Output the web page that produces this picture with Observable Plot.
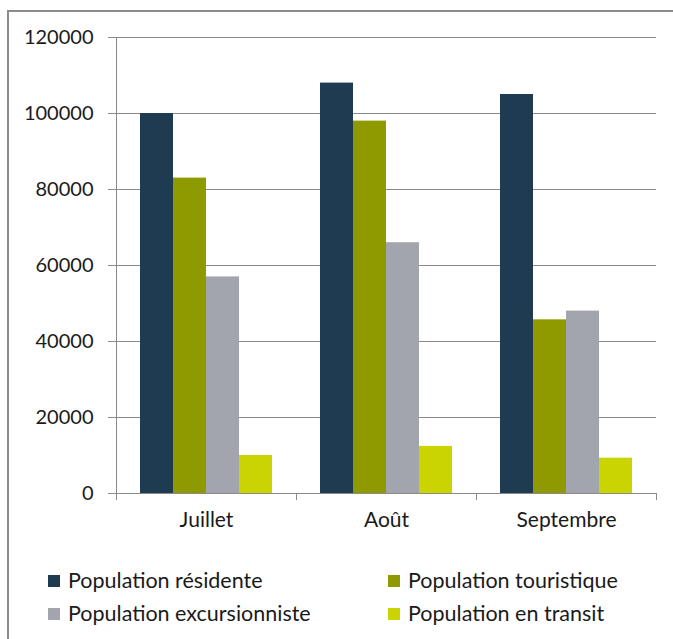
<!DOCTYPE html>
<html>
<head>
<meta charset="utf-8">
<script src="https://cdn.jsdelivr.net/npm/d3@7"></script>
<script src="https://cdn.jsdelivr.net/npm/@observablehq/plot@0.6"></script>
<style>
  html, body { margin: 0; padding: 0; background: #fff; }
  #wrap { position: relative; width: 673px; height: 639px; overflow: hidden; font-family: Lato, "Liberation Sans", sans-serif; color: #1a1a1a; }
  #border { position: absolute; left: 7px; top: 10px; width: 700px; height: 700px; border-top: 2px solid #8c8c8c; border-left: 2px solid #8c8c8c; }
  #chart { position: absolute; left: 0; top: 0; }
  .item { position: absolute; font-size: 21.5px; line-height: 24px; white-space: nowrap; }
  .item i { display: inline-block; width: 12px; height: 12px; margin-right: 8px; vertical-align: 1px; }
</style>
</head>
<body>
<div id="wrap">
  <div id="border"></div>
  <div id="chart"></div>
  <div id="legend"></div>
</div>
<script>
// Months shown on the category axis
const months = ["Juillet", "Août", "Septembre"];
// Population categories (one bar each per month)
const series = ["Population résidente", "Population touristique", "Population excursionniste", "Population en transit"];
// Values per month, in the order of `months`
const resident = [100000, 108000, 105000];
const touristic = [83000, 98000, 45700];
const excursion = [57000, 66000, 48000];
const transit = [10000, 12400, 9300];
// Y-axis tick values
const yTicks = [0, 20000, 40000, 60000, 80000, 100000, 120000];
const colors = ["#1f3b51", "#8f9a00", "#a2a5ad", "#c9d400"];

const valuesBySeries = [resident, touristic, excursion, transit];
const rows = months.flatMap((month, i) =>
  series.map((s, j) => ({month, series: s, value: valuesBySeries[j][i]}))
);

const height = 540, marginTop = 37, marginBottom = 47;
const gridColor = "#8a8a8a";

const chart = Plot.plot({
  width: 673,
  height,
  marginLeft: 116,
  marginRight: 17,
  marginTop,
  marginBottom,
  style: {fontFamily: "Lato, 'Liberation Sans', sans-serif", fontSize: "20px", color: "#1a1a1a", background: "transparent"},
  fx: {domain: months, padding: 0, label: null},
  x: {domain: series, paddingInner: 0, paddingOuter: 0.727, axis: null},
  y: {domain: [0, 120000], label: null},
  color: {domain: series, range: colors},
  marks: [
    Plot.gridY(yTicks, {stroke: gridColor, strokeOpacity: 1}),
    // vertical axis line, only beside the first month
    Plot.frame({anchor: "left", facetAnchor: "left", stroke: gridColor, insetBottom: -6}),
    // short separators below the baseline between months
    Plot.frame({anchor: "right", stroke: gridColor, insetTop: height - marginTop - marginBottom, insetBottom: -6}),
    Plot.axisY(yTicks, {tickSize: 8, tickPadding: 15, tickFormat: d3.format("d"), stroke: gridColor, fill: "#1a1a1a", label: null}),
    Plot.axisFx({anchor: "bottom", tickSize: 0, tickPadding: 19, fontSize: 21, label: null, fill: "#1a1a1a"}),
    Plot.barY(rows, {fx: "month", x: "series", y: "value", fill: "series"})
  ]
});
document.getElementById("chart").appendChild(chart);

// Two-column legend under the chart
const color = chart.scale("color");
const legend = document.getElementById("legend");
const spots = [[48, 568], [388, 568], [48, 601], [388, 601]];
series.forEach((s, k) => {
  const el = document.createElement("div");
  el.className = "item";
  el.style.left = spots[k][0] + "px";
  el.style.top = spots[k][1] + "px";
  const sw = document.createElement("i");
  sw.style.background = color.apply(s);
  el.appendChild(sw);
  el.appendChild(document.createTextNode(s));
  legend.appendChild(el);
});
</script>
</body>
</html>
